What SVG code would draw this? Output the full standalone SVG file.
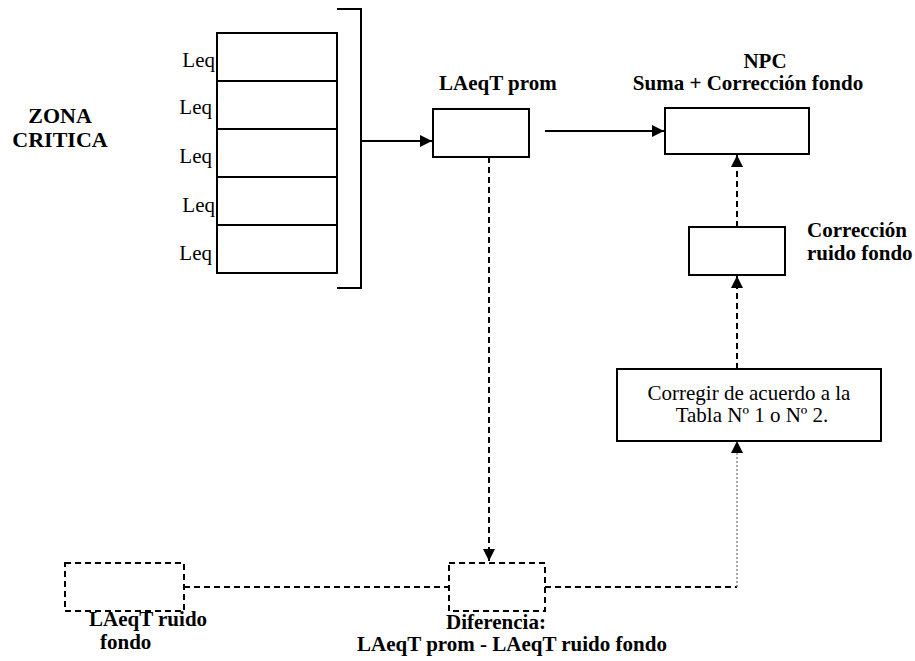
<svg xmlns="http://www.w3.org/2000/svg" width="915" height="661" viewBox="0 0 915 661">
<style>
.box{fill:#fff;stroke:#000;stroke-width:2}
.dbox{fill:none;stroke:#000;stroke-width:2;stroke-dasharray:6,4}
.ln{fill:none;stroke:#000;stroke-width:2}
.dl{fill:none;stroke:#000;stroke-width:2;stroke-dasharray:6,4}
.dot{fill:none;stroke:#555;stroke-width:1;stroke-dasharray:2,2}
text{font-family:'Liberation Serif','Times New Roman',Times,serif;fill:#000}
.b{font-weight:bold;font-size:21px}
.r{font-size:21px}
.z{font-weight:bold;font-size:22px}
</style>
<defs>
<marker id="ah" viewBox="0 0 10 10" refX="10" refY="5" markerWidth="12" markerHeight="12" markerUnits="userSpaceOnUse" orient="auto">
<path d="M0,0 L10,5 L0,10 z" fill="#000"/>
</marker>
</defs>
<g id="zona">
<text class="z" x="60" y="123" text-anchor="middle">ZONA</text>
<text class="z" x="60" y="147" text-anchor="middle">CRITICA</text>
</g>
<g id="stack">
<rect class="box" x="217" y="33" width="120" height="240"/>
<line class="ln" x1="217" y1="81" x2="337" y2="81"/>
<line class="ln" x1="217" y1="129" x2="337" y2="129"/>
<line class="ln" x1="217" y1="177" x2="337" y2="177"/>
<line class="ln" x1="217" y1="225" x2="337" y2="225"/>
<text class="r" x="215" y="67" text-anchor="end">Leq</text>
<text class="r" x="212" y="114" text-anchor="end">Leq</text>
<text class="r" x="212" y="163" text-anchor="end">Leq</text>
<text class="r" x="215" y="212" text-anchor="end">Leq</text>
<text class="r" x="212" y="260" text-anchor="end">Leq</text>
</g>
<g id="bracket">
<polyline class="ln" points="337,9 361,9 361,288 337,288"/>
</g>
<g id="laeqt-prom">
<rect class="box" x="433" y="109" width="96" height="48"/>
<text class="b" x="439" y="90">LAeqT prom</text>
</g>
<g id="npc">
<rect class="box" x="665" y="108" width="144" height="46"/>
<text class="b" x="765" y="68" text-anchor="middle">NPC</text>
<text class="b" x="748" y="90" text-anchor="middle">Suma + Corrección fondo</text>
</g>
<g id="correccion">
<rect class="box" x="689" y="227" width="96" height="48"/>
<text class="b" x="807" y="237">Corrección</text>
<text class="b" x="807" y="260">ruido fondo</text>
</g>
<g id="corregir">
<rect class="box" x="617" y="369" width="264" height="72"/>
<text class="r" x="749" y="400" text-anchor="middle">Corregir de acuerdo a la</text>
<text class="r" x="752" y="422" text-anchor="middle">Tabla Nº 1 o Nº 2.</text>
</g>
<g id="ruido-fondo">
<rect class="dbox" x="65" y="563" width="119" height="48"/>
<text class="b" x="89" y="626">LAeqT ruido</text>
<text class="b" x="100" y="649">fondo</text>
</g>
<g id="diferencia">
<rect class="dbox" x="449" y="563" width="96" height="48"/>
<text class="b" x="496" y="629" text-anchor="middle">Diferencia:</text>
<text class="b" x="512" y="651" text-anchor="middle">LAeqT prom - LAeqT ruido fondo</text>
</g>
<g id="connectors">
<line class="ln" x1="361" y1="141" x2="432" y2="141" marker-end="url(#ah)"/>
<line class="ln" x1="545" y1="131" x2="664" y2="131" marker-end="url(#ah)"/>
<line class="dl" x1="489" y1="157" x2="489" y2="561" marker-end="url(#ah)"/>
<line class="dl" x1="737" y1="227" x2="737" y2="155" marker-end="url(#ah)"/>
<line class="dl" x1="737" y1="369" x2="737" y2="276" marker-end="url(#ah)"/>
<line class="dl" x1="184" y1="587" x2="449" y2="587"/>
<line class="dl" x1="545" y1="587" x2="737" y2="587"/>
<line class="dot" x1="737" y1="587" x2="737" y2="452"/>
<path d="M737,441 L731,453 L743,453 z" fill="#000"/>
</g>
</svg>
